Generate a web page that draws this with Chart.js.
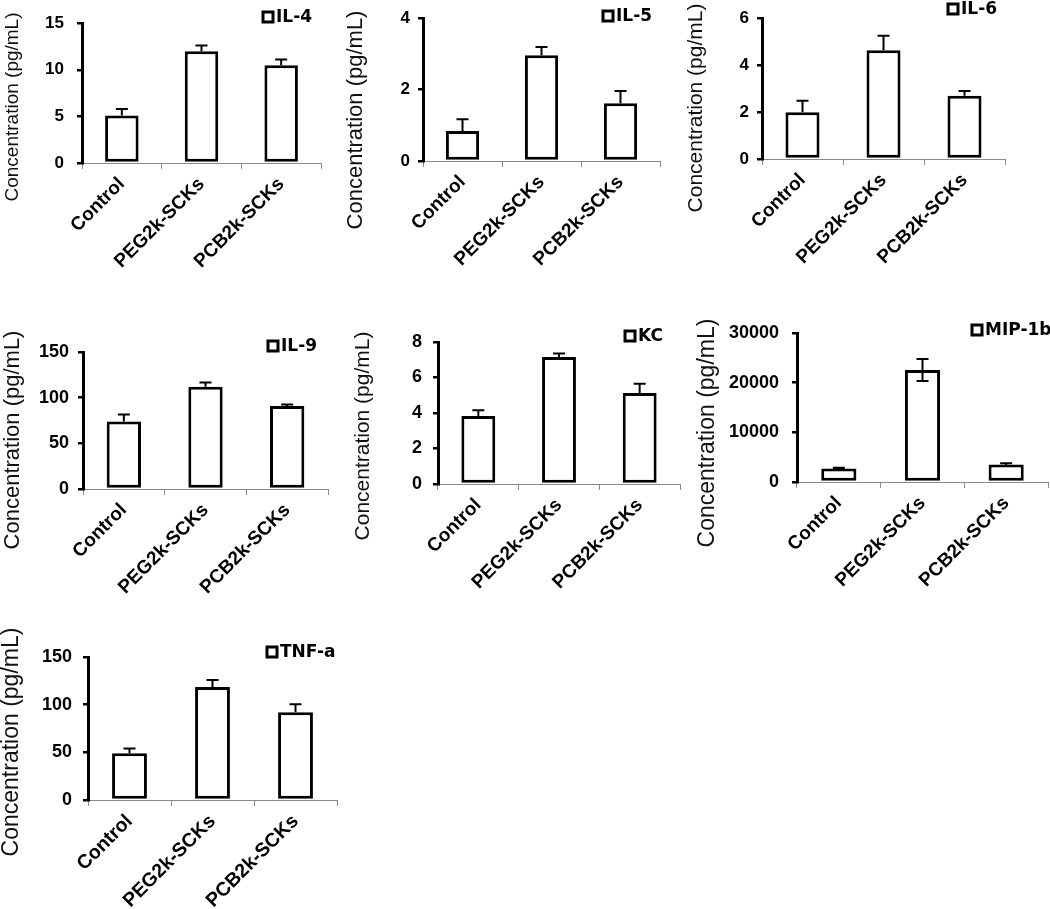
<!DOCTYPE html>
<html>
<head>
<meta charset="utf-8">
<title>Cytokine concentrations</title>
<script src="https://cdn.jsdelivr.net/npm/chart.js@4.4.0/dist/chart.umd.min.js"></script>
<style>
    body { margin: 0; background: #fff; }
    #wrap { position: relative; width: 1050px; height: 909px; overflow: hidden; }
    #wrap canvas { position: absolute; }
</style>
</head>
<body>
<div id="wrap"></div>
<script>
// categories and axis text
const categories = ['Control', 'PEG2k-SCKs', 'PCB2k-SCKs'];
const yTitle = 'Concentration (pg/mL)';

// mean values and error
const il4 = [5.1, 12.0, 10.5];
const il4Err = [0.7, 0.6, 0.6];
const il4Ticks = [0, 5, 10, 15];

const il5 = [0.84, 2.96, 1.62];
const il5Err = [0.33, 0.23, 0.34];
const il5Ticks = [0, 2, 4];

const il6 = [1.99, 4.63, 2.69];
const il6Err = [0.49, 0.62, 0.21];
const il6Ticks = [0, 2, 4, 6];

const il9 = [74, 112, 91];
const il9Err = [7.5, 4.5, 1.5];
const il9Ticks = [0, 50, 100, 150];

const kc = [3.83, 7.15, 5.13];
const kcErr = [0.33, 0.2, 0.52];
const kcTicks = [0, 2, 4, 6, 8];

const mip1b = [2700, 22550, 3500];
const mip1bErr = [150, 2200, 300];
const mip1bTicks = [0, 10000, 20000, 30000];

const tnfa = [49, 118.5, 92];
const tnfaErr = [5, 7.5, 8.5];
const tnfaTicks = [0, 50, 100, 150];

const FONT = '"Liberation Sans", Arial, sans-serif';

// box = canvas [left, top, w, h]; area = chart area [l, t, r, b] inside canvas
// title = [x, y, size] of the axis title; legend = [x, y] of the legend box
const panels = [
    { label: 'IL-4', values: il4, errors: il4Err, ticks: il4Ticks, both: false,
      box: [0, 0, 340, 300], area: [82, 21, 321, 163], yFont: 17, yPad: 13, xFont: 19,
      title: [13, 107, 19], legend: [263, 17] },
    { label: 'IL-5', values: il5, errors: il5Err, ticks: il5Ticks, both: false,
      box: [340, 0, 340, 300], area: [83, 18, 320, 161], yFont: 17, yPad: 8, xFont: 19,
      title: [16, 120, 22], legend: [263, 16] },
    { label: 'IL-6', values: il6, errors: il6Err, ticks: il6Ticks, both: false,
      box: [680, 0, 370, 300], area: [82, 14, 325, 159], yFont: 17, yPad: 8, xFont: 19,
      title: [16, 108, 21], legend: [268, 9] },
    { label: 'IL-9', values: il9, errors: il9Err, ticks: il9Ticks, both: false,
      box: [0, 300, 340, 300], area: [83, 52, 328, 189], yFont: 18, yPad: 9, xFont: 19,
      title: [13, 140, 22], legend: [268, 46] },
    { label: 'KC', values: kc, errors: kcErr, ticks: kcTicks, both: false,
      box: [340, 300, 345, 300], area: [98, 42, 340, 184], yFont: 18, yPad: 11, xFont: 19,
      title: [23, 136, 21], legend: [285, 36] },
    { label: 'MIP-1b', values: mip1b, errors: mip1bErr, ticks: mip1bTicks, both: true,
      box: [685, 300, 365, 300], area: [112, 33, 363, 182], yFont: 18, yPad: 13, xFont: 19,
      title: [23, 133, 23], legend: [287, 30] },
    { label: 'TNF-a', values: tnfa, errors: tnfaErr, ticks: tnfaTicks, both: false,
      box: [0, 600, 345, 309], area: [88, 57, 337, 200], yFont: 18, yPad: 11, xFont: 19.5,
      title: [12, 142, 23], legend: [267, 52] }
];

// error whiskers on top of each bar
const errorBars = {
    id: 'errorBars',
    afterDatasetsDraw(chart, args, opts) {
        const ctx = chart.ctx;
        const y = chart.scales.y;
        const meta = chart.getDatasetMeta(0);
        const cap = 6;
        ctx.save();
        ctx.strokeStyle = '#000';
        ctx.lineWidth = 2;
        meta.data.forEach((bar, i) => {
            const v = opts.values[i];
            const e = opts.errors[i];
            const top = y.getPixelForValue(v + e);
            const low = opts.both ? y.getPixelForValue(v - e) : bar.y;
            ctx.beginPath();
            ctx.moveTo(bar.x, low);
            ctx.lineTo(bar.x, top);
            ctx.moveTo(bar.x - cap, top);
            ctx.lineTo(bar.x + cap, top);
            if (opts.both) {
                ctx.moveTo(bar.x - cap, low);
                ctx.lineTo(bar.x + cap, low);
            }
            ctx.stroke();
        });
        ctx.restore();
    }
};

// rotated y title and the small boxed legend in the corner
const panelText = {
    id: 'panelText',
    afterDraw(chart, args, opts) {
        const ctx = chart.ctx;
        ctx.save();
        ctx.translate(opts.title[0], opts.title[1]);
        ctx.rotate(-Math.PI / 2);
        ctx.font = opts.title[2] + 'px ' + FONT;
        ctx.fillStyle = '#111';
        ctx.textAlign = 'center';
        ctx.textBaseline = 'middle';
        ctx.fillText(yTitle, 0, 0);
        ctx.restore();

        const lx = opts.legend[0];
        const ly = opts.legend[1];
        ctx.save();
        ctx.lineWidth = 3;
        ctx.strokeStyle = '#000';
        ctx.fillStyle = '#fff';
        ctx.fillRect(lx, ly - 5, 10, 10);
        ctx.strokeRect(lx, ly - 5, 10, 10);
        ctx.fillStyle = '#000';
        ctx.font = 'bold 17px "DejaVu Sans", sans-serif';
        ctx.textBaseline = 'middle';
        ctx.fillText(chart.data.datasets[0].label, lx + 13, ly + 1);
        ctx.restore();
    }
};

const wrap = document.getElementById('wrap');

panels.forEach(p => {
    const [left, top, w, h] = p.box;
    const canvas = document.createElement('canvas');
    canvas.width = w;
    canvas.height = h;
    canvas.style.left = left + 'px';
    canvas.style.top = top + 'px';
    wrap.appendChild(canvas);

    const ticks = p.ticks;
    new Chart(canvas, {
        type: 'bar',
        data: {
            labels: categories,
            datasets: [{
                label: p.label,
                data: p.values,
                backgroundColor: '#fff',
                borderColor: '#000',
                borderWidth: 3,
                borderSkipped: false,
                categoryPercentage: 1,
                barPercentage: 0.42
            }]
        },
        options: {
            responsive: false,
            animation: false,
            devicePixelRatio: 1,
            layout: {
                padding: { left: 0, top: p.area[1], right: w - p.area[2], bottom: 0 }
            },
            plugins: {
                legend: { display: false },
                tooltip: { enabled: false },
                errorBars: { values: p.values, errors: p.errors, both: p.both },
                panelText: { title: p.title, legend: p.legend }
            },
            scales: {
                x: {
                    grid: {
                        offset: true,
                        drawOnChartArea: false,
                        tickLength: 6,
                        color: '#8a8a8a',
                        lineWidth: 1
                    },
                    border: { color: '#8a8a8a', width: 1 },
                    ticks: {
                        color: '#000',
                        font: { family: FONT, size: p.xFont, weight: 'bold' },
                        minRotation: 45,
                        maxRotation: 45,
                        autoSkip: false,
                        padding: 4
                    },
                    afterFit: s => { s.height = h - p.area[3]; }
                },
                y: {
                    min: ticks[0],
                    max: ticks[ticks.length - 1],
                    ticks: {
                        stepSize: ticks[1] - ticks[0],
                        color: '#000',
                        font: { family: FONT, size: p.yFont, weight: 'bold' },
                        padding: p.yPad,
                        callback: value => String(value)
                    },
                    grid: {
                        drawOnChartArea: false,
                        tickLength: 5,
                        color: '#000',
                        lineWidth: 2.5
                    },
                    border: { color: '#000', width: 3 },
                    afterFit: s => { s.width = p.area[0]; }
                }
            }
        },
        plugins: [errorBars, panelText]
    });
});
</script>
</body>
</html>
